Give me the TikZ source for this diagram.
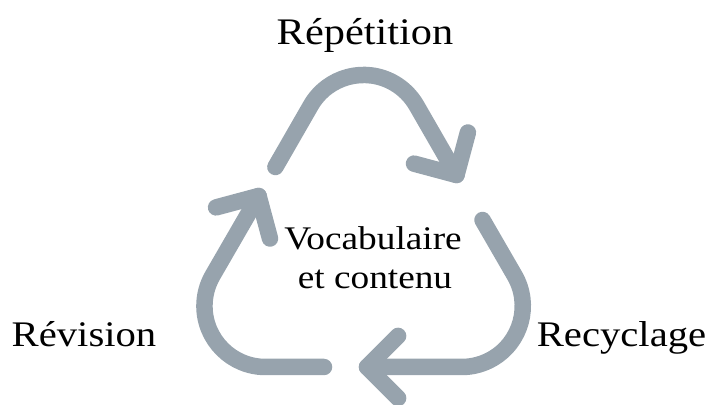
\documentclass[tikz,border=0pt]{standalone}
\usepackage{fontspec}
\usetikzlibrary{calc}
\setmainfont{Liberation Serif}[FakeStretch=1.13]
\definecolor{cyclegray}{RGB}{151,163,173}
\begin{document}
\begin{tikzpicture}[x=1pt,y=1pt,
  cyc/.style={draw=cyclegray,line width=16.5pt,line cap=round,line join=round},
  bigtxt/.style={inner sep=0pt,anchor=base,font=\fontsize{36}{40}\selectfont},
  midtxt/.style={inner sep=0pt,anchor=base,font=\fontsize{33}{39}\selectfont}]
\useasboundingbox (0,0) rectangle (709,404);
% tips
\coordinate (T1) at (456.5,229);
\coordinate (T2) at (367,37);
\coordinate (T3) at (258.6,208);
% top arrow
\draw[cyc] (275.4,237) -- (310.8,298.55) arc[start angle=150,end angle=30,radius=61] -- (T1);
\draw[cyc] ($(T1)+(75:44)$) -- (T1) -- ($(T1)+(165:44)$);
% right/bottom arrow
\draw[cyc] (482.5,184) -- (514.6,128.5) arc[start angle=30,end angle=-90,radius=61] -- (T2);
\draw[cyc] ($(T2)+(45:44)$) -- (T2) -- ($(T2)+(-45:44)$);
% left arrow
\draw[cyc] (324,37) -- (265.45,37) arc[start angle=-90,end angle=-210,radius=61] -- (T3);
\draw[cyc] ($(T3)+(195:44)$) -- (T3) -- ($(T3)+(285:44)$);
% labels
\node[bigtxt,font=\fontsize{37.5}{42}\selectfont] (rep) at (365,359) {Répétition};
\node[bigtxt] (rev) at (84,57.3) {Révision};
\node[bigtxt] (rec) at (621.5,57.3) {Recyclage};
\node[midtxt] (voc) at (373,154.7) {Vocabulaire};
\node[midtxt] (con) at (375,115.7) {et contenu};
\end{tikzpicture}
\end{document}
